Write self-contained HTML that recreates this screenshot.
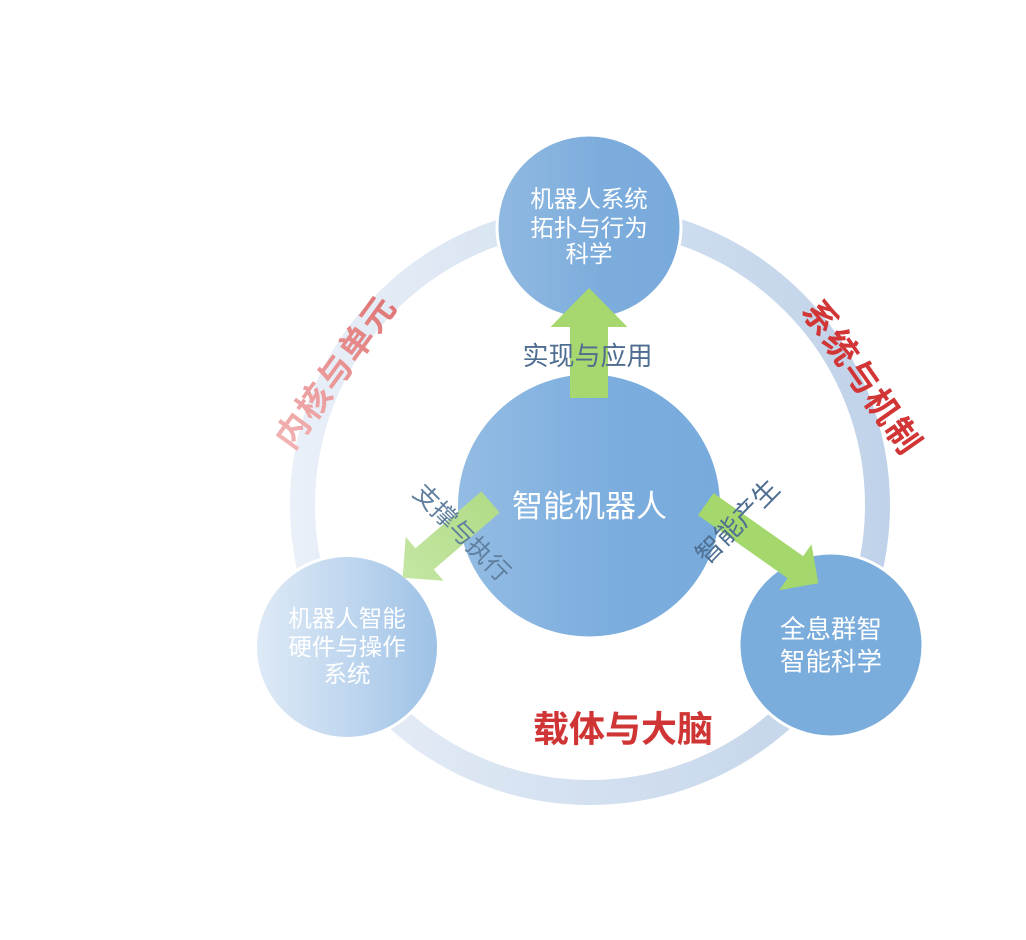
<!DOCTYPE html>
<html>
<head>
<meta charset="utf-8">
<style>
  html,body{margin:0;padding:0;background:#ffffff;}
  body{width:1026px;height:940px;overflow:hidden;}
  svg{display:block;}
  .cjk{font-family:"Liberation Sans","Noto Sans CJK SC","WenQuanYi Zen Hei",sans-serif;}
</style>
</head>
<body>
<svg width="1026" height="940" viewBox="0 0 1026 940" xmlns="http://www.w3.org/2000/svg" class="cjk">
  <defs>
    <linearGradient id="ringG" gradientUnits="userSpaceOnUse" x1="290" y1="0" x2="890" y2="0">
      <stop offset="0" stop-color="#eaf0f8"/>
      <stop offset="0.5" stop-color="#d3e0f0"/>
      <stop offset="1" stop-color="#c0d2e9"/>
    </linearGradient>
    <linearGradient id="topG" x1="0" y1="0" x2="1" y2="0">
      <stop offset="0" stop-color="#90b9e1"/>
      <stop offset="0.6" stop-color="#7cacdc"/>
      <stop offset="1" stop-color="#78aadb"/>
    </linearGradient>
    <linearGradient id="cenG" x1="0" y1="0" x2="1" y2="0">
      <stop offset="0" stop-color="#93bce3"/>
      <stop offset="0.6" stop-color="#7badde"/>
      <stop offset="1" stop-color="#78abdc"/>
    </linearGradient>
    <linearGradient id="blG" x1="0" y1="0" x2="1" y2="0">
      <stop offset="0" stop-color="#deeaf6"/>
      <stop offset="0.5" stop-color="#c0d7ef"/>
      <stop offset="1" stop-color="#9dc1e6"/>
    </linearGradient>
    <linearGradient id="pinkG" x1="0" y1="0" x2="1" y2="0">
      <stop offset="0" stop-color="#f2b3b3"/>
      <stop offset="1" stop-color="#e07575"/>
    </linearGradient>
    <linearGradient id="leftArrG" x1="0" y1="0" x2="1" y2="0">
      <stop offset="0" stop-color="#b2dc88"/>
      <stop offset="1" stop-color="#c4e6a3"/>
    </linearGradient>
  </defs>

  <!-- outer ring -->
  <circle cx="590" cy="505" r="287.5" fill="none" stroke="url(#ringG)" stroke-width="25"/>

  <!-- circles -->
  <circle cx="589" cy="227" r="92" fill="url(#topG)" stroke="#ffffff" stroke-width="3"/>
  <circle cx="347" cy="647" r="91.5" fill="url(#blG)" stroke="#ffffff" stroke-width="3"/>
  <circle cx="831" cy="645" r="92" fill="#7aacdc" stroke="#ffffff" stroke-width="3"/>
  <circle cx="589" cy="505.5" r="131" fill="url(#cenG)"/>

  <!-- arrows -->
  <g transform="translate(589,398) rotate(-90)">
    <path d="M0,-19 L71,-19 L71,-38.5 L110,0 L71,38.5 L71,19 L0,19 Z" fill="#a7d86f"/>
  </g>
  <g transform="translate(490.5,502) rotate(139.2)">
    <path d="M0,-14 L87,-14 L87,-29 L116,0 L87,29 L87,14 L0,14 Z" fill="url(#leftArrG)"/>
  </g>
  <g transform="translate(705.8,504.2) rotate(35.1)">
    <path d="M0,-13.5 L109.5,-13.5 L109.5,-28 L137.5,0 L109.5,28 L109.5,13.5 L0,13.5 Z" fill="#a5d86c"/>
  </g>

  <!-- circle texts -->
  <g fill="#ffffff" font-size="23.5" text-anchor="middle">
    <text x="589" y="207">机器人系统</text>
    <text x="589" y="236">拓扑与行为</text>
    <text x="589" y="262">科学</text>
  </g>
  <g fill="#ffffff" font-size="23.5" text-anchor="middle">
    <text x="347" y="626.5">机器人智能</text>
    <text x="347" y="655">硬件与操作</text>
    <text x="347" y="682">系统</text>
  </g>
  <g fill="#ffffff" font-size="25.5" text-anchor="middle">
    <text x="831" y="638">全息群智</text>
    <text x="831" y="670.5">智能科学</text>
  </g>
  <text x="589.5" y="517" fill="#ffffff" font-size="31" text-anchor="middle">智能机器人</text>

  <!-- arrow labels -->
  <text x="587.5" y="365" fill="#4e6d90" font-size="26" text-anchor="middle">实现与应用</text>
  <g transform="translate(462.5,532) rotate(45)">
    <text x="0" y="9.5" fill="#5f7f9f" font-size="25" text-anchor="middle">支撑与执行</text>
  </g>
  <g transform="translate(737,521) rotate(-45.5)">
    <text x="0" y="10" fill="#4f6f92" font-size="26.5" text-anchor="middle">智能产生</text>
  </g>

  <!-- ring labels -->
  <g transform="translate(335,371) rotate(-54)">
    <text x="0" y="13" fill="url(#pinkG)" font-size="34" font-weight="700" text-anchor="middle" letter-spacing="2">内核与单元</text>
  </g>
  <g transform="translate(863,377) rotate(55)">
    <text x="0" y="13" fill="#d13535" font-size="34" font-weight="700" text-anchor="middle" letter-spacing="2">系统与机制</text>
  </g>
  <text x="623" y="741.5" fill="#d03535" font-size="36" font-weight="700" text-anchor="middle">载体与大脑</text>
</svg>
</body>
</html>
